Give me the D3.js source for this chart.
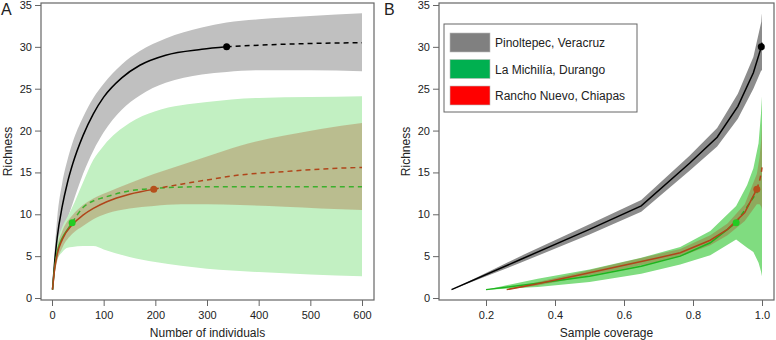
<!DOCTYPE html>
<html>
<head>
<meta charset="utf-8">
<script src="https://cdn.jsdelivr.net/npm/d3@7"></script>
<style>
  body { margin: 0; background: #fff; }
  text { font-family: "Liberation Sans", Arial, sans-serif; fill: #222; }
</style>
</head>
<body>
<div id="chart"></div>
<script>
// ---- Panel A data (individual-based rarefaction / extrapolation) ----
var pinoN   = [1, 5, 10, 20, 30, 40, 60, 80, 100, 135, 170, 220, 290, 338, 400, 500, 600];
var pinoEst = [1, 4.2, 7.2, 11.0, 13.8, 16.0, 19.4, 22.0, 24.0, 26.3, 27.8, 29.0, 29.7, 30.0, 30.2, 30.4, 30.5];
var pinoLo  = [1, 3.3, 5.2, 7.6, 9.5, 11.3, 14.8, 17.6, 19.8, 22.5, 24.2, 25.7, 26.7, 27.0, 27.2, 27.2, 27.1];
var pinoHi  = [1, 5.5, 9.5, 13.8, 16.5, 18.6, 21.6, 23.9, 25.6, 27.9, 29.5, 31.0, 32.3, 32.9, 33.3, 33.7, 34.0];
var pinoObs = 338;

var michN   = [1, 5, 10, 20, 30, 39, 60, 80, 100, 150, 200, 300, 400, 500, 600];
var michEst = [1, 3.6, 5.5, 7.2, 8.2, 9.0, 10.8, 11.6, 12.0, 12.8, 13.1, 13.3, 13.3, 13.3, 13.3];
var michLo  = [1, 2.8, 4.5, 5.5, 6.0, 6.1, 6.2, 6.2, 5.8, 4.9, 4.3, 3.5, 3.1, 2.8, 2.6];
var michHi  = [1, 4.5, 6.5, 8.5, 9.7, 10.8, 13.8, 16.5, 18.2, 20.9, 22.3, 23.4, 23.9, 24.0, 24.1];
var michObs = 39;

var ranchN   = [1, 5, 10, 20, 40, 60, 80, 106, 150, 197, 250, 300, 364, 450, 520, 600];
var ranchEst = [1, 3.4, 5.2, 7.0, 8.8, 9.9, 10.7, 11.5, 12.4, 13.0, 13.6, 14.1, 14.7, 15.1, 15.4, 15.6];
var ranchLo  = [1, 2.8, 4.4, 6.0, 7.7, 8.6, 9.4, 10.1, 10.7, 11.0, 11.2, 11.2, 11.1, 10.9, 10.7, 10.5];
var ranchHi  = [1, 4.0, 6.0, 8.0, 9.9, 11.1, 11.9, 12.6, 13.7, 14.8, 15.9, 16.9, 18.2, 19.4, 20.2, 20.9];
var ranchObs = 197;

// ---- Panel B data (coverage-based) ----
var pinoCov   = [0.10, 0.30, 0.50, 0.65, 0.79, 0.87, 0.93, 0.975, 0.998, 0.999, 1.0];
var pinoCEst  = [1, 4.6, 8.2, 11.0, 16.1, 19.2, 22.9, 26.9, 30.0, 30.3, 30.5];
var pinoCLo   = [1, 4.2, 7.6, 10.3, 15.2, 18.1, 21.4, 25.0, 27.2, 27.2, 27.1];
var pinoCHi   = [1, 5.0, 8.8, 11.7, 17.0, 20.3, 24.4, 28.8, 33.0, 33.6, 34.0];
var pinoCObs  = 0.998;

var michCov   = [0.20, 0.35, 0.50, 0.65, 0.763, 0.85, 0.925, 0.957, 0.975, 0.99, 0.997, 1.0];
var michCEst  = [1, 1.75, 2.6, 3.8, 5.0, 6.6, 9.0, 10.9, 12.0, 12.9, 13.2, 13.3];
var michCLo   = [1, 1.3, 1.9, 2.9, 4.0, 5.1, 7.0, 6.0, 5.5, 4.2, 3.2, 2.6];
var michCHi   = [1, 2.3, 3.4, 4.8, 6.1, 8.0, 11.0, 13.5, 15.5, 18.5, 22.0, 24.1];
var michCObs  = 0.925;

var ranchCov  = [0.26, 0.35, 0.47, 0.60, 0.70, 0.763, 0.85, 0.90, 0.95, 0.985, 0.993, 0.998, 1.0];
var ranchCEst = [1, 1.7, 2.75, 3.9, 4.8, 5.4, 6.9, 8.2, 10.2, 13.0, 14.0, 15.0, 15.6];
var ranchCLo  = [1, 1.5, 2.45, 3.5, 4.35, 4.95, 6.3, 7.5, 9.2, 11.2, 11.2, 10.9, 10.5];
var ranchCHi  = [1, 1.9, 3.05, 4.3, 5.25, 5.85, 7.5, 8.9, 11.2, 14.8, 16.8, 19.0, 20.9];
var ranchCObs = 0.985;

var legendNames = ["Pinoltepec, Veracruz", "La Michilía, Durango", "Rancho Nuevo, Chiapas"];
var yTicks = [0, 5, 10, 15, 20, 25, 30, 35];
var xTicksA = [0, 100, 200, 300, 400, 500, 600];
var xTicksB = [0.2, 0.4, 0.6, 0.8, 1.0];

var svgWidth = 776;
var svgHeight = 340;

var svg = d3.select("#chart")
  .append("svg")
  .attr("width", svgWidth)
  .attr("height", svgHeight);

function zip(xs, est, lo, hi) {
  return xs.map(function(x, i) { return { x: x, y: est[i], lo: lo[i], hi: hi[i] }; });
}

// draws one panel; box = frame in pixels
function panel(opts) {
  var box = opts.box;
  var x = d3.scaleLinear().domain(opts.xDomain).range(opts.xRange);
  var y = d3.scaleLinear().domain([0, 35]).range([298, 5]);
  var g = svg.append("g");

  var area = d3.area().curve(opts.curve)
    .x(function(d) { return x(d.x); })
    .y0(function(d) { return y(d.lo); })
    .y1(function(d) { return y(d.hi); });
  var line = d3.line().curve(opts.curve)
    .x(function(d) { return x(d.x); })
    .y(function(d) { return y(d.y); });

  // bands
  opts.series.forEach(function(s) {
    g.append("path").datum(s.data)
      .attr("d", area)
      .attr("fill", s.band)
      .attr("fill-opacity", s.bandOpacity);
  });

  // lines: solid up to observed, dashed after
  opts.series.forEach(function(s) {
    var solid = s.data.filter(function(d) { return d.x <= s.obs; });
    var dashed = s.data.filter(function(d) { return d.x >= s.obs; });
    g.append("path").datum(solid)
      .attr("d", line).attr("fill", "none")
      .attr("stroke", s.line).attr("stroke-width", 1.5);
    g.append("path").datum(dashed)
      .attr("d", line).attr("fill", "none")
      .attr("stroke", s.line).attr("stroke-width", 1.5)
      .attr("stroke-dasharray", "5,4");
  });

  opts.series.forEach(function(s) {
    var p = s.data.find(function(d) { return d.x === s.obs; });
    g.append("circle")
      .attr("cx", x(p.x)).attr("cy", y(p.y)).attr("r", 3.5)
      .attr("fill", s.dot);
  });

  // frame
  g.append("rect")
    .attr("x", box.left).attr("y", box.top)
    .attr("width", box.right - box.left).attr("height", box.bottom - box.top)
    .attr("fill", "none").attr("stroke", "#666").attr("stroke-width", 1.2);

  // axes
  var leftAxis = d3.axisLeft(y).tickValues(yTicks).tickSize(6).tickPadding(3);
  g.append("g")
    .attr("transform", "translate(" + box.left + ",0)")
    .call(leftAxis)
    .call(function(a) {
      a.select(".domain").remove();
      a.selectAll("line").attr("stroke", "#666");
      a.selectAll("text").style("font-size", "11px").attr("fill", "#222");
    });

  var bottomAxis = d3.axisBottom(x).tickValues(opts.xTicks).tickSize(6).tickPadding(5)
    .tickFormat(opts.xFormat);
  g.append("g")
    .attr("transform", "translate(0," + box.bottom + ")")
    .call(bottomAxis)
    .call(function(a) {
      a.select(".domain").remove();
      a.selectAll("line").attr("stroke", "#666");
      a.selectAll("text").style("font-size", "11px").attr("fill", "#222");
    });

  g.append("text")
    .attr("x", (box.left + box.right) / 2).attr("y", 337)
    .attr("text-anchor", "middle").style("font-size", "12px")
    .text(opts.xTitle);

  g.append("text")
    .attr("transform", "translate(" + (box.left - 29) + "," + ((box.top + box.bottom) / 2) + ") rotate(-90)")
    .attr("text-anchor", "middle").style("font-size", "12px")
    .text("Richness");

  g.append("text")
    .attr("x", opts.letterX).attr("y", 15)
    .style("font-size", "16px")
    .text(opts.letter);
}

panel({
  letter: "A", letterX: 1,
  box: { left: 41, right: 374, top: 3, bottom: 300 },
  xDomain: [0, 600], xRange: [52, 362],
  xTicks: xTicksA, xFormat: d3.format("d"),
  xTitle: "Number of individuals",
  curve: d3.curveMonotoneX,
  series: [
    { data: zip(pinoN, pinoEst, pinoLo, pinoHi), obs: pinoObs,
      band: "#c0c0c0", bandOpacity: 1, line: "#000", dot: "#000" },
    { data: zip(michN, michEst, michLo, michHi), obs: michObs,
      band: "#c2f0c2", bandOpacity: 1, line: "#3bb02c", dot: "#22cc22" },
    { data: zip(ranchN, ranchEst, ranchLo, ranchHi), obs: ranchObs,
      band: "#a84a1c", bandOpacity: 0.3, line: "#b0451a", dot: "#b5501c" }
  ]
});

panel({
  letter: "B", letterX: 384,
  box: { left: 439, right: 774, top: 3, bottom: 300 },
  xDomain: [0.2, 1.0], xRange: [486, 762],
  xTicks: xTicksB, xFormat: d3.format(".1f"),
  xTitle: "Sample coverage",
  curve: d3.curveLinear,
  series: [
    { data: zip(pinoCov, pinoCEst, pinoCLo, pinoCHi), obs: pinoCObs,
      band: "#8c8c8c", bandOpacity: 1, line: "#000", dot: "#000" },
    { data: zip(michCov, michCEst, michCLo, michCHi), obs: michCObs,
      band: "#80dc80", bandOpacity: 1, line: "#1eb41e", dot: "#22cc22" },
    { data: zip(ranchCov, ranchCEst, ranchCLo, ranchCHi), obs: ranchCObs,
      band: "#a84a1c", bandOpacity: 0.35, line: "#b0451a", dot: "#b5501c" }
  ]
});

// legend in panel B
var legendColors = ["#808080", "#00b050", "#ff0000"];
var legend = svg.append("g");
legend.append("rect")
  .attr("x", 444).attr("y", 24).attr("width", 193).attr("height", 88)
  .attr("fill", "#fff").attr("stroke", "#666").attr("stroke-width", 1);
legendNames.forEach(function(name, i) {
  legend.append("rect")
    .attr("x", 450).attr("y", 33 + i * 26.5).attr("width", 40).attr("height", 19)
    .attr("fill", legendColors[i]).attr("stroke", "#bbb").attr("stroke-width", 0.6);
  legend.append("text")
    .attr("x", 495).attr("y", 47 + i * 26.5)
    .style("font-size", "12px")
    .text(name);
});
</script>
</body>
</html>
